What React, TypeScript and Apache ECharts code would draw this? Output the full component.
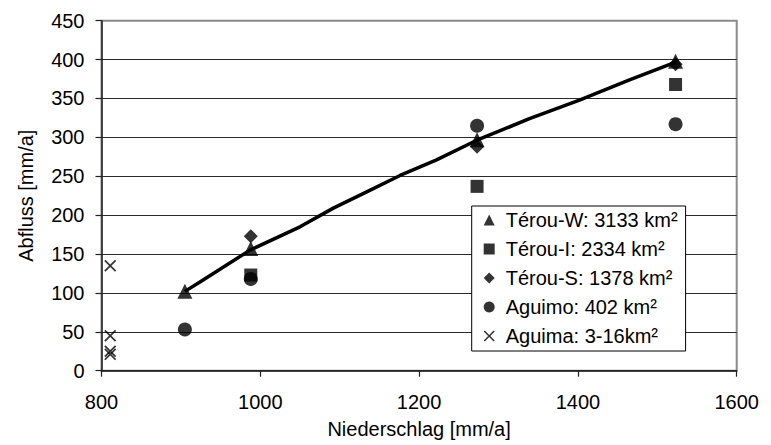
import React, { useEffect, useRef } from "react";
import * as echarts from "echarts";

// Niederschlag [mm/a] (x) and Abfluss [mm/a] (y) per catchment
const terouWX = [905, 988, 1273, 1523];
const terouWY = [102, 157, 297, 398];
const terouIX = [988, 1273, 1523];
const terouIY = [123, 237, 368];
const terouSX = [988, 1273, 1523];
const terouSY = [173, 288, 394];
const aguimoX = [905, 988, 1273, 1523];
const aguimoY = [53, 118, 315, 317];
const aguimaX = [811, 811, 811, 811];
const aguimaY = [135, 45, 25, 21];

// fitted curve
const fitX = [905, 924, 987, 1050, 1092, 1134, 1176, 1222, 1272, 1339, 1402, 1465, 1524];
const fitY = [102, 114, 155, 185, 209, 230, 251, 271, 296, 324, 348, 374, 397];

const seriesNames = [
  "Térou-W: 3133 km²",
  "Térou-I: 2334 km²",
  "Térou-S: 1378 km²",
  "Aguimo: 402 km²",
  "Aguima: 3-16km²",
];

const xTicks = [800, 1000, 1200, 1400, 1600];
const yTicks = [0, 50, 100, 150, 200, 250, 300, 350, 400, 450];

const FONT = "'Liberation Sans', Arial, sans-serif";
const CROSS = "path://M0,1L1,0L5,4L9,0L10,1L6,5L10,9L9,10L5,6L1,10L0,9L4,5Z";
const symbols = ["triangle", "rect", "diamond", "circle", CROSS];
const symbolSizes = [15, 13, 14, 14, 12];

const zip = (xs: number[], ys: number[]) => xs.map((x, i) => [x, ys[i]]);
const seriesData = [
  zip(terouWX, terouWY),
  zip(terouIX, terouIY),
  zip(terouSX, terouSY),
  zip(aguimoX, aguimoY),
  zip(aguimaX, aguimaY),
];

export default function App() {
  const ref = useRef<HTMLDivElement>(null);
  useEffect(() => {
    if (!ref.current) return;
    const chart = echarts.init(ref.current, undefined, { renderer: "svg" });
    chart.setOption({
      animation: false,
      backgroundColor: "#fff",
      textStyle: { fontFamily: FONT },
      grid: {
        left: 101.5,
        right: 34.3,
        top: 20.7,
        bottom: 74.3,
        show: true,
        backgroundColor: "#fff",
        borderColor: "#8a8a8a",
        borderWidth: 2,
      },
      legend: {
        orient: "vertical",
        left: 471.7,
        top: 206,
        data: seriesNames.map((n, i) => ({ name: n, icon: symbols[i] })),
        backgroundColor: "#fff",
        borderColor: "#000",
        borderWidth: 1,
        borderRadius: 0,
        padding: [3, 8, 4, 12],
        itemWidth: 11,
        itemHeight: 11,
        itemGap: 7,
        textStyle: {
          fontSize: 20,
          color: "#000",
          fontFamily: FONT,
          lineHeight: 22,
          padding: [0, 0, 0, 6],
        },
        selectedMode: false,
      },
      xAxis: {
        type: "value",
        min: xTicks[0],
        max: xTicks[xTicks.length - 1],
        interval: xTicks[1] - xTicks[0],
        name: "Niederschlag [mm/a]",
        nameLocation: "middle",
        nameGap: 48,
        nameTextStyle: { fontSize: 20, color: "#000", fontFamily: FONT },
        axisLine: { show: true, onZero: false, lineStyle: { color: "#222", width: 1.5 } },
        axisTick: { show: true, length: 6, lineStyle: { color: "#222", width: 1.2 } },
        axisLabel: {
          fontSize: 20,
          color: "#000",
          margin: 21,
          fontFamily: FONT,
          formatter: (v: number) => String(v),
        },
        splitLine: { show: false },
      },
      yAxis: {
        type: "value",
        min: yTicks[0],
        max: yTicks[yTicks.length - 1],
        interval: yTicks[1] - yTicks[0],
        name: "Abfluss [mm/a]",
        nameLocation: "middle",
        nameRotate: 90,
        nameGap: 66,
        nameTextStyle: { fontSize: 20, color: "#000", fontFamily: FONT },
        axisLine: { show: true, onZero: false, lineStyle: { color: "#222", width: 1.5 } },
        axisTick: { show: true, length: 6, lineStyle: { color: "#222", width: 1.2 } },
        axisLabel: {
          fontSize: 20,
          color: "#000",
          margin: 17,
          fontFamily: FONT,
          formatter: (v: number) => String(v),
        },
        splitLine: {
          show: true,
          showMaxLine: false,
          lineStyle: { color: "#2a2a2a", width: 1 },
        },
      },
      series: [
        {
          type: "line",
          name: "fit",
          data: zip(fitX, fitY),
          showSymbol: false,
          symbol: "none",
          lineStyle: { color: "#000", width: 3.5 },
          z: 2,
        },
        ...seriesNames.map((n, i) => ({
          type: "scatter",
          name: n,
          symbol: symbols[i],
          symbolSize: symbolSizes[i],
          itemStyle: { color: "#000" },
          data: seriesData[i],
          z: 3,
        })),
      ],
    });
    return () => chart.dispose();
  }, []);
  return (
    <div
      ref={ref}
      style={{ position: "fixed", left: 0, top: 0, width: 771, height: 445 }}
    />
  );
}
